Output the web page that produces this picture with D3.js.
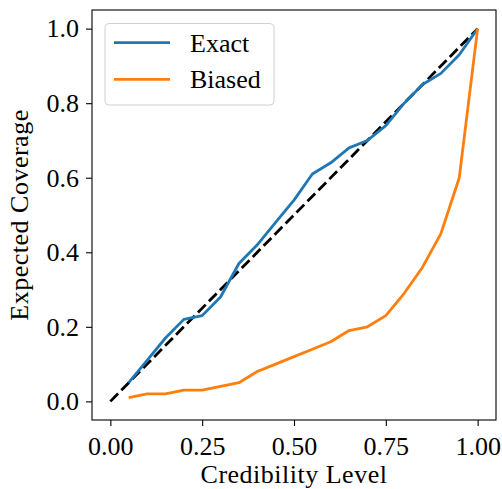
<!DOCTYPE html>
<html>
<head>
<meta charset="utf-8">
<script src="https://cdn.jsdelivr.net/npm/d3@7"></script>
<style>
  body { margin: 0; background: #fff; }
  text { font-family: "Liberation Serif", Tinos, "DejaVu Serif", serif; fill: #000; }
</style>
</head>
<body>
<div class="container"></div>
<script>
// credibility levels and coverage values
const levels = [0.05, 0.10, 0.15, 0.20, 0.25, 0.30, 0.35, 0.40, 0.45, 0.50,
                0.55, 0.60, 0.65, 0.70, 0.75, 0.80, 0.85, 0.90, 0.95, 1.00];
const exactCoverage = [0.05, 0.11, 0.17, 0.22, 0.23, 0.28, 0.37, 0.42, 0.48, 0.54,
                       0.61, 0.64, 0.68, 0.70, 0.74, 0.80, 0.85, 0.88, 0.93, 1.00];
const biasedCoverage = [0.01, 0.02, 0.02, 0.03, 0.03, 0.04, 0.05, 0.08, 0.10, 0.12,
                        0.14, 0.16, 0.19, 0.20, 0.23, 0.29, 0.36, 0.45, 0.60, 1.00];
const diagonal = [0, 1];
const xTicks = [0, 0.25, 0.5, 0.75, 1.0];
const yTicks = [0, 0.2, 0.4, 0.6, 0.8, 1.0];
const seriesNames = ["Exact", "Biased"];

const width = 502;
const height = 489;
const margin = {top: 10, right: 6, bottom: 69, left: 92};
const fontSize = 26;
const fontFamily = '"Liberation Serif", Tinos, "DejaVu Serif", serif';

const svg = d3.select(".container")
              .append("svg")
              .attr("width", width)
              .attr("height", height);

const x = d3.scaleLinear()
            .domain([-0.05, 1.05])
            .range([margin.left, width - margin.right]);
const y = d3.scaleLinear()
            .domain([-0.05, 1.05])
            .range([height - margin.bottom, margin.top]);

const line = d3.line()
               .x(d => x(d[0]))
               .y(d => y(d[1]));

// diagonal reference line
svg.append("path")
   .datum(diagonal.map(v => [v, v]))
   .attr("d", line)
   .attr("fill", "none")
   .attr("stroke", "#000")
   .attr("stroke-width", 2.8)
   .attr("stroke-dasharray", "11,4.6");

// the two coverage curves
svg.append("path")
   .datum(levels.map((l, i) => [l, exactCoverage[i]]))
   .attr("d", line)
   .attr("fill", "none")
   .attr("stroke", "#1f77b4")
   .attr("stroke-width", 2.8)
   .attr("stroke-linejoin", "round");

svg.append("path")
   .datum(levels.map((l, i) => [l, biasedCoverage[i]]))
   .attr("d", line)
   .attr("fill", "none")
   .attr("stroke", "#ff7f0e")
   .attr("stroke-width", 2.8)
   .attr("stroke-linejoin", "round");

// axes
const xAxis = d3.axisBottom(x).tickValues(xTicks).tickFormat(d3.format(".2f"))
                .tickSize(6).tickPadding(11).tickSizeOuter(0);
const yAxis = d3.axisLeft(y).tickValues(yTicks).tickFormat(d3.format(".1f"))
                .tickSize(6).tickPadding(7).tickSizeOuter(0);

const gx = svg.append("g")
   .attr("transform", `translate(0,${height - margin.bottom})`)
   .call(xAxis);
const gy = svg.append("g")
   .attr("transform", `translate(${margin.left},0)`)
   .call(yAxis);

[gx, gy].forEach(g => {
  g.attr("font-family", null);
  g.select(".domain").remove();
  g.selectAll("line").attr("stroke", "#000").attr("stroke-width", 1.1);
  g.selectAll("text")
   .attr("font-family", fontFamily)
   .attr("font-size", fontSize);
});

// frame
svg.append("rect")
   .attr("x", margin.left)
   .attr("y", margin.top)
   .attr("width", width - margin.left - margin.right)
   .attr("height", height - margin.top - margin.bottom)
   .attr("fill", "none")
   .attr("stroke", "#000")
   .attr("stroke-width", 1.1);

// axis labels
svg.append("text")
   .attr("x", (margin.left + width - margin.right) / 2)
   .attr("y", 483)
   .attr("text-anchor", "middle")
   .attr("font-family", fontFamily)
   .attr("font-size", fontSize)
   .attr("letter-spacing", 0.5)
   .text("Credibility Level");

svg.append("text")
   .attr("transform", `translate(28,${(margin.top + height - margin.bottom) / 2}) rotate(-90)`)
   .attr("text-anchor", "middle")
   .attr("font-family", fontFamily)
   .attr("font-size", fontSize)
   .attr("letter-spacing", 0.5)
   .text("Expected Coverage");

// legend
const legend = svg.append("g").attr("id", "legend");
legend.append("rect")
   .attr("x", 105)
   .attr("y", 23.5)
   .attr("width", 169)
   .attr("height", 81.5)
   .attr("rx", 4)
   .attr("fill", "#fff")
   .attr("fill-opacity", 0.8)
   .attr("stroke", "#d0d0d0")
   .attr("stroke-width", 1);

const legendColors = ["#1f77b4", "#ff7f0e"];
seriesNames.forEach((name, i) => {
  const ly = 42.7 + i * 36.6;
  legend.append("line")
     .attr("x1", 114).attr("x2", 170)
     .attr("y1", ly).attr("y2", ly)
     .attr("stroke", legendColors[i])
     .attr("stroke-width", 2.8);
  legend.append("text")
     .attr("x", 190)
     .attr("y", ly + 9)
     .attr("font-family", fontFamily)
     .attr("font-size", fontSize)
     .text(name);
});
</script>
</body>
</html>
